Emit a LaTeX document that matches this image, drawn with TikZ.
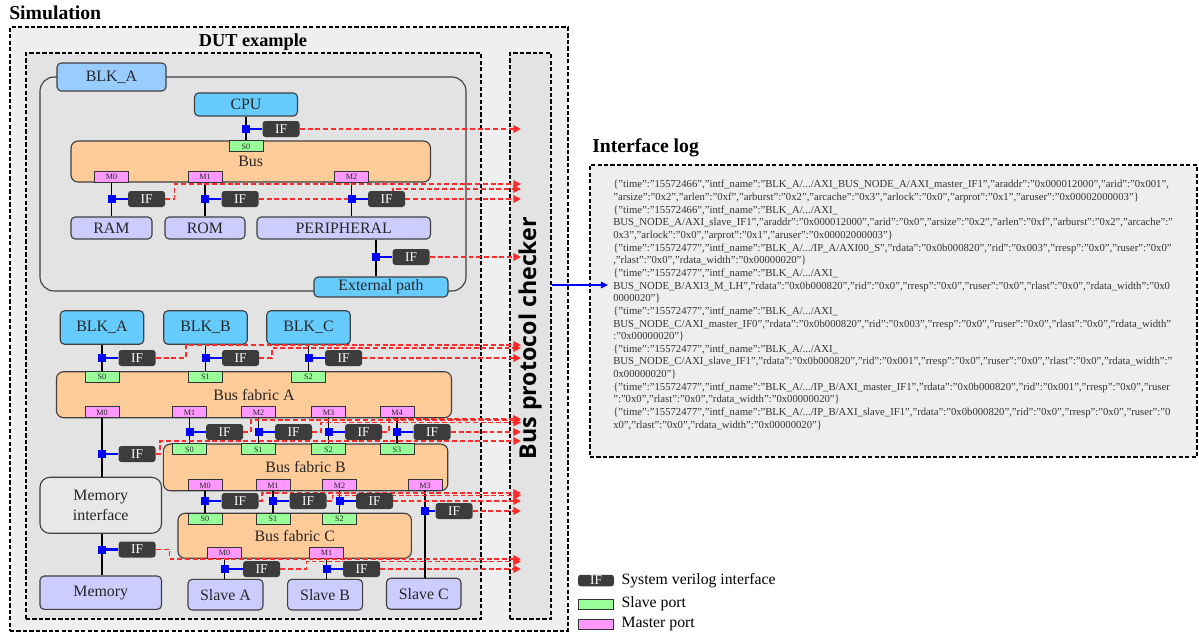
\documentclass[tikz,border=0pt]{standalone}
\usepackage{fontspec}
\setmainfont{Liberation Serif}
\setsansfont{Open Sans}
\usepackage{tikz}
\usetikzlibrary{positioning,arrows.meta}
\newdimen\pix
\pix=0.025cm
\definecolor{simgray}{HTML}{EFEFEF}
\definecolor{dutgray}{HTML}{E3E3E3}
\definecolor{loggray}{HTML}{EEEEEE}
\definecolor{memgray}{HTML}{E8E8E8}
\definecolor{cpublue}{HTML}{66CCFF}
\definecolor{tabblue}{HTML}{99CCFF}
\definecolor{busorange}{HTML}{FFCC99}
\definecolor{slavepurple}{HTML}{CCCCFF}
\definecolor{sgreen}{HTML}{99FF99}
\definecolor{mpink}{HTML}{FF99FF}
\definecolor{ifgray}{HTML}{3C3C3C}
\definecolor{linegray}{HTML}{404040}
\definecolor{logred}{HTML}{FF2A2A}
\pgfdeclarelayer{front}
\pgfsetlayers{main,front}

\begin{document}
\begin{tikzpicture}[x=0.025cm,y=-0.025cm]

\tikzset{every node/.style={font=\fontsize{11.3}{13}\selectfont, text=black!85},
         frame/.style={draw=black, dash pattern=on 3pt off 1.6pt, line width=1pt, inner sep=0pt},
         title/.style={font=\fontsize{14}{16}\selectfont\bfseries, text=black, inner sep=0pt},
         blk/.style={draw=linegray, line width=0.8pt, rounded corners=3pt, inner sep=0pt, align=center},
         cpubox/.style={blk, fill=cpublue},
         slavebox/.style={blk, fill=slavepurple},
         busbox/.style={blk, fill=busorange, rounded corners=5pt},
         sport/.style={draw=black!80, line width=0.6pt, fill=sgreen, inner sep=0pt, minimum width=34\pix, minimum height=11\pix, font=\fontsize{5.8}{6}\selectfont},
         mport/.style={sport, fill=mpink},
         ifbox/.style={fill=ifgray, text=white, rounded corners=2pt, inner sep=0pt, minimum width=37\pix, minimum height=16\pix, font=\fontsize{9.5}{10}\selectfont},
         ifdot/.style={fill=blue, inner sep=0pt, minimum size=8\pix},
         ifline/.style={blue, line width=2pt},
         wire/.style={black, line width=1.3pt},
         logline/.style={draw=logred, line width=1.15pt, dash pattern=on 3.5pt off 2pt, -{Triangle[length=5.5pt,width=5.5pt]}},
         keytext/.style={font=\fontsize{11.2}{13}\selectfont, text=black, inner sep=0pt, anchor=west}}

\useasboundingbox (0,0) rectangle (1199,634);

\node[frame, fill=simgray, minimum width=558\pix, minimum height=604\pix] (sim) at (289,329) {};
\node[title, anchor=west] (simtitle) at (9,13) {Simulation};
\node[frame, fill=dutgray, minimum width=455\pix, minimum height=566\pix] (dut) at (253.5,336) {};
\node[title, font=\fontsize{13}{15}\selectfont\bfseries] (duttitle) at (253,42) {DUT example};
\node[frame, fill=dutgray, minimum width=41\pix, minimum height=566\pix] (chk) at (530.5,336) {};
\node[rotate=90, font=\sffamily\bfseries\fontsize{16.5}{18}\selectfont, text=black] (chklabel) at (530,338) {Bus protocol checker};

\node[draw=linegray, line width=0.8pt, fill=dutgray, rounded corners=10pt, minimum width=426\pix, minimum height=214\pix] (blkaframe) at (253,184) {};
\node[blk, fill=tabblue, minimum width=109\pix, minimum height=28\pix] (blkatab) at (111.5,77) {BLK\_A};
\node[cpubox, minimum width=103\pix, minimum height=23\pix] (cpu) at (246,104.5) {CPU};
\node[busbox, minimum width=359.5\pix, minimum height=41\pix] (bus) at (250.75,161.5) {Bus};
\node[sport, anchor=north] (bus-s0) at (246,0 |- bus.north) {S0};
\foreach \i/\x in {0/111.5,1/205,2/351.5}
    \node[mport, anchor=south] (bus-m\i) at (\x,0 |- bus.south) {M\i};
\node[slavebox, minimum width=81\pix, minimum height=22\pix] (ram) at (111.5,228) {RAM};
\node[slavebox, minimum width=80\pix, minimum height=22\pix] (rom) at (205,228) {ROM};
\node[slavebox, minimum width=173.5\pix, minimum height=22\pix] (peri) at (343.75,228) {PERIPHERAL};
\node[cpubox, minimum width=134\pix, minimum height=20\pix] (extpath) at (381,287) {External path};

\node[cpubox, minimum width=83.5\pix, minimum height=33.5\pix] (blka) at (102,327.5) {BLK\_A};
\node[cpubox, minimum width=83.5\pix, minimum height=33.5\pix] (blkb) at (205.5,327.5) {BLK\_B};
\node[cpubox, minimum width=83.5\pix, minimum height=33.5\pix] (blkc) at (308.5,327.5) {BLK\_C};
\node[busbox, minimum width=395\pix, minimum height=46\pix] (fabA) at (254,394.7) {Bus fabric A};
\node[busbox, minimum width=284.4\pix, minimum height=46.7\pix] (fabB) at (305.6,467.4) {Bus fabric B};
\node[busbox, minimum width=233.4\pix, minimum height=45\pix] (fabC) at (294.7,535.8) {Bus fabric C};
\foreach \i/\x in {0/102,1/205.5,2/308.5}
    \node[sport, anchor=north] (fa-s\i) at (\x,0 |- fabA.north) {S\i};
\foreach \i/\x in {0/102,1/189.5,2/258.5,3/328.5,4/397}
    \node[mport, anchor=south] (fa-m\i) at (\x,0 |- fabA.south) {M\i};
\foreach \i/\x in {0/189.5,1/258.5,2/328.5,3/397}
    \node[sport, anchor=north] (fb-s\i) at (\x,0 |- fabB.north) {S\i};
\foreach \i/\x in {0/205,1/273,2/339.5,3/425}
    \node[mport, anchor=south] (fb-m\i) at (\x,0 |- fabB.south) {M\i};
\foreach \i/\x in {0/205,1/273,2/339.5}
    \node[sport, anchor=north] (fc-s\i) at (\x,0 |- fabC.north) {S\i};
\foreach \i/\x in {0/224.5,1/326.5}
    \node[mport, anchor=south] (fc-m\i) at (\x,0 |- fabC.south) {M\i};
\node[blk, fill=memgray, rounded corners=7pt, minimum width=121.5\pix, minimum height=56\pix, font=\fontsize{11.3}{13.7}\selectfont] (memif) at (100.75,505.3) {Memory\\interface};
\node[slavebox, minimum width=121.5\pix, minimum height=33.3\pix] (mem) at (100.75,592.7) {Memory};
\node[slavebox, minimum width=75\pix, minimum height=30.7\pix] (slavea) at (225.5,594.7) {Slave A};
\node[slavebox, minimum width=75\pix, minimum height=30.7\pix] (slaveb) at (325.1,594.7) {Slave B};
\node[slavebox, minimum width=74.5\pix, minimum height=31\pix] (slavec) at (423.75,593.8) {Slave C};

\begin{pgfonlayer}{front}
\foreach \n/\x/\y/\g in {cpu/246/129/12, m0/111.5/199/12, m1/205/199/12, m2/351.5/199/12, ext/376/257/12,
                         ta/102/358/12, tb/205.5/358/12, tc/308.5/358/12,
                         am0/102/454/12, am1/189.5/432/12, am2/258.5/432/12, am3/328.5/432/12, am4/397/432/12,
                         bm0/205/501/12, bm1/273/501/12, bm2/339.5/501/12, bm3/425/511/6,
                         mem/102/549.5/12, cm0/224.5/569/14, cm1/326.5/569/12}{
    \node[ifdot] (sq-\n) at (\x,\y) {};
    \node[ifbox, right=\g\pix of sq-\n] (if-\n) {IF};
    \draw[ifline] (sq-\n) -- (if-\n);
}
\end{pgfonlayer}

\draw[wire] (cpu.south) -- (bus-s0.north);
\foreach \i/\t in {0/ram,1/rom,2/peri}
    \draw[wire] (bus-m\i.south) -- (bus-m\i.south |- \t.north);
\draw[wire] (sq-ext |- peri.south) -- (sq-ext |- extpath.north);
\foreach \t/\i in {blka/0,blkb/1,blkc/2}
    \draw[wire] (\t.south) -- (fa-s\i.north);
\draw[wire] (fa-m0.south) -- (fa-m0.south |- memif.north);
\foreach \i/\j in {1/0,2/1,3/2,4/3}
    \draw[wire] (fa-m\i.south) -- (fb-s\j.north);
\foreach \i in {0,1,2}
    \draw[wire] (fb-m\i.south) -- (fc-s\i.north);
\draw[wire] (fb-m3.south) -- (fb-m3.south |- slavec.north);
\draw[wire] (fa-m0.south |- memif.south) -- (fa-m0.south |- mem.north);
\draw[wire] (fc-m0.south) -- (fc-m0.south |- slavea.north);
\draw[wire] (fc-m1.south) -- (fc-m1.south |- slaveb.north);

\foreach \n/\d/\e in {cpu/0/129, m0/9/184, m1/134/189, m2/0/199, ext/0/257,
                      ta/30/345, tb/12.5/348, tc/0/358,
                      am0/4/441, am1/7.5/420, am2/8.5/422.5, am3/6.5/419, am4/0/432,
                      bm0/3/493, bm1/5.5/495.5, bm2/0/501, bm3/0/511,
                      mem/13.5/559, cm0/26/561.5, cm1/0/569}{
    \coordinate (end-\n) at (521,\e);
    \draw[logline] (if-\n.east) -- ++(\d,0) |- (end-\n);
}

\node[title, anchor=west] (logtitle) at (592,148) {Interface log};
\node[frame, fill=loggray, minimum width=607\pix, minimum height=292\pix] (log) at (893.5,311) {};
\node[anchor=north west, inner sep=0pt, align=left, font=\fontsize{7.6}{9}\selectfont, text=black!80] (logtxt) at (613,180) {%
\{"time":"15572466","intf\_name":"BLK\_A/.../AXI\_BUS\_NODE\_A/AXI\_master\_IF1","araddr":"0x000012000","arid":"0x001",\\
"arsize":"0x2","arlen":"0xf","arburst":"0x2","arcache":"0x3","arlock":"0x0","arprot":"0x1","aruser":"0x00002000003"\}\\
\{"time":"15572466","intf\_name":"BLK\_A/.../AXI\_\\
BUS\_NODE\_A/AXI\_slave\_IF1","araddr":"0x000012000","arid":"0x0","arsize":"0x2","arlen":"0xf","arburst":"0x2","arcache":"\\
0x3","arlock":"0x0","arprot":"0x1","aruser":"0x00002000003"\}\\
\{"time":"15572477","intf\_name":"BLK\_A/.../IP\_A/AXI00\_S","rdata":"0x0b000820","rid":"0x003","rresp":"0x0","ruser":"0x0"\\
,"rlast":"0x0","rdata\_width":"0x00000020"\}\\
\{"time":"15572477","intf\_name":"BLK\_A/.../AXI\_\\
BUS\_NODE\_B/AXI3\_M\_LH","rdata":"0x0b000820","rid":"0x0","rresp":"0x0","ruser":"0x0","rlast":"0x0","rdata\_width":"0x0\\
0000020"\}\\
\{"time":"15572477","intf\_name":"BLK\_A/.../AXI\_\\
BUS\_NODE\_C/AXI\_master\_IF0","rdata":"0x0b000820","rid":"0x003","rresp":"0x0","ruser":"0x0","rlast":"0x0","rdata\_width"\\
:"0x00000020"\}\\
\{"time":"15572477","intf\_name":"BLK\_A/.../AXI\_\\
BUS\_NODE\_C/AXI\_slave\_IF1","rdata":"0x0b000820","rid":"0x001","rresp":"0x0","ruser":"0x0","rlast":"0x0","rdata\_width":"\\
0x00000020"\}\\
\{"time":"15572477","intf\_name":"BLK\_A/.../IP\_B/AXI\_master\_IF1","rdata":"0x0b000820","rid":"0x001","rresp":"0x0","ruser\\
":"0x0","rlast":"0x0","rdata\_width":"0x00000020"\}\\
\{"time":"15572477","intf\_name":"BLK\_A/.../IP\_B/AXI\_slave\_IF1","rdata":"0x0b000820","rid":"0x0","rresp":"0x0","ruser":"0\\
x0","rlast":"0x0","rdata\_width":"0x00000020"\}};
\coordinate (login) at (608,285);
\draw[blue, line width=1.3pt, -{Triangle[length=5pt,width=4.5pt]}] (chk.east |- login) -- (login);

\node[ifbox, minimum width=36\pix, minimum height=11.5\pix] (key-if) at (596,580.5) {IF};
\node[sport, minimum width=35\pix, minimum height=10\pix] (key-s) at (595.5,604) {};
\node[mport, minimum width=35\pix, minimum height=10\pix] (key-m) at (595.5,624) {};
\node[keytext, right=7\pix of key-if] (key-if-t) {System verilog interface};
\node[keytext, right=8\pix of key-s] (key-s-t) {Slave port};
\node[keytext, right=8\pix of key-m] (key-m-t) {Master port};
\end{tikzpicture}
\end{document}
